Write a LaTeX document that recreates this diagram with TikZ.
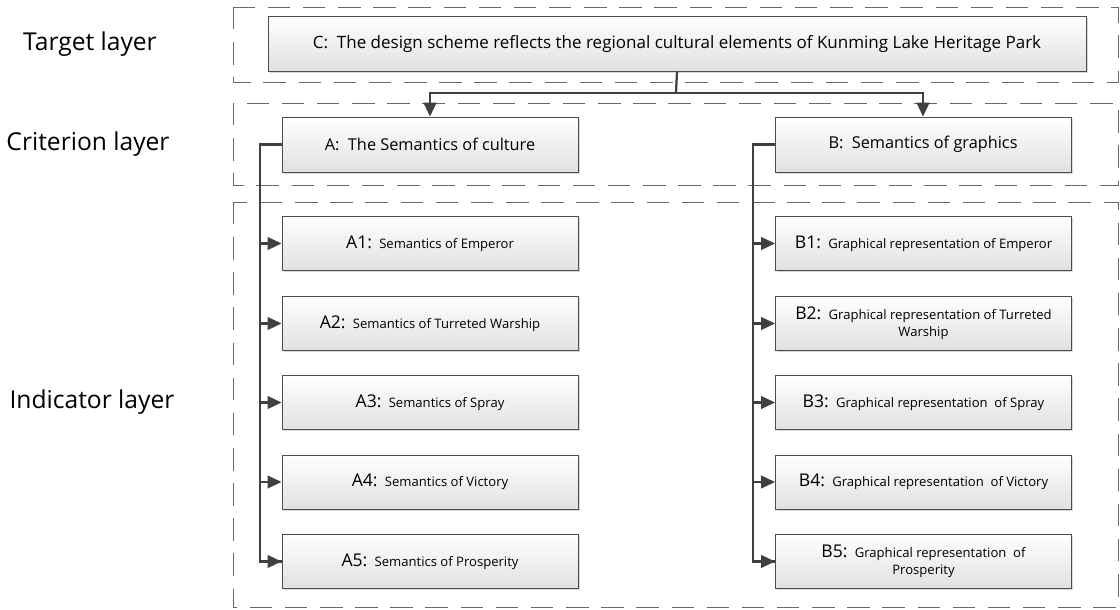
\documentclass[tikz,border=0pt]{standalone}
\usepackage{fontspec}
\setmainfont{Open Sans}
\usetikzlibrary{arrows.meta,shadows}

\tikzset{
  layerframe/.style={draw=black!60, line width=0.7pt, dash pattern=on 16pt off 9pt},
  itembox/.style={draw=black!70, line width=0.6pt, top color=white, bottom color=black!12,
    drop shadow={shadow xshift=1.3pt, shadow yshift=-1.3pt, fill=black!30},
    minimum width=7.4cm, minimum height=1.35cm, align=center, inner sep=2pt},
  layerlabel/.style={font=\fontsize{17.5}{20}\selectfont},
  trunk/.style={draw=black!75, line width=1.6pt},
  link/.style={trunk, -{Triangle[length=10pt,width=9pt]}},
}
\newcommand{\tagtxt}[2]{{\fontsize{12.5}{14}\selectfont #1:}~~{\fontsize{9.3}{12}\selectfont #2}}

\begin{document}
\begin{tikzpicture}
			%%%%% START %%%%%
			\useasboundingbox (0, 0) rectangle (28, -15.25);
			
			% layer frames
			\draw[layerframe] (5.825, -0.175) rectangle (27.95, -2.05);
			\draw[layerframe] (5.825, -2.575) rectangle (27.95, -4.625);
			\draw[layerframe] (5.825, -5.05) rectangle (27.95, -15.175);
			
			\node[layerlabel] (tgt) at (2.25, -1.1) {Target layer};
			\node[layerlabel] (crt) at (2.2, -3.6) {Criterion layer};
			\node[layerlabel] (ind) at (2.3, -10.05) {Indicator layer};
			
			% target
			\node[itembox, minimum width=20.45cm, minimum height=1.375cm, font=\fontsize{12.1}{14}\selectfont] (C) at (16.925, -1.1)
				{C:~~The design scheme reflects the regional cultural elements of Kunming Lake Heritage Park};
			
			% criteria
			\node[itembox, minimum height=1.375cm, font=\fontsize{11.6}{14}\selectfont] (A) at (10.75, -3.6125) {A:~~The Semantics of culture};
			\node[itembox, minimum height=1.375cm, font=\fontsize{11.6}{14}\selectfont] (B) at (23.075, -3.6125) {B:~~Semantics of graphics};
			
			\coordinate (split) at (16.9, -2.325);
			\draw[trunk] (C.south) -- (split);
			\draw[link] (split) -| (A.north);
			\draw[link] (split) -| (B.north);
			
			% indicators
			\node[itembox] (A1) at (10.75, -6.0875) {\tagtxt{A1}{Semantics of Emperor}};
			\node[itembox] (A2) at (10.75, -8.0875) {\tagtxt{A2}{Semantics of Turreted Warship}};
			\node[itembox] (A3) at (10.75, -10.0625) {\tagtxt{A3}{Semantics of Spray}};
			\node[itembox] (A4) at (10.75, -12.05) {\tagtxt{A4}{Semantics of Victory}};
			\node[itembox] (A5) at (10.75, -14.0375) {\tagtxt{A5}{Semantics of Prosperity}};
			
			\node[itembox] (B1) at (23.0875, -6.0875) {\tagtxt{B1}{Graphical representation of Emperor}};
			\node[itembox] (B2) at (23.0875, -8.0875) {\tagtxt{B2}{Graphical representation of Turreted}\\{\fontsize{9.3}{12}\selectfont Warship}};
			\node[itembox] (B3) at (23.0875, -10.0625) {\tagtxt{B3}{Graphical representation~ of Spray}};
			\node[itembox] (B4) at (23.0875, -12.05) {\tagtxt{B4}{Graphical representation~ of Victory}};
			\node[itembox] (B5) at (23.0875, -14.0375) {\tagtxt{B5}{Graphical representation~ of}\\{\fontsize{9.3}{12}\selectfont Prosperity}};
			
			\coordinate (atrunk) at (6.5, -3.6125);
			\coordinate (btrunk) at (18.825, -3.6125);
			\draw[trunk] (A.west) -- (atrunk) |- (A5.west);
			\draw[trunk] (B.west) -- (btrunk) |- (B5.west);
			\foreach \i in {1,...,5} {
				\draw[link] (atrunk |- A\i.west) -- (A\i.west);
				\draw[link] (btrunk |- B\i.west) -- (B\i.west);
			}
			%%%%% END %%%%%
		\end{tikzpicture}
\end{document}
